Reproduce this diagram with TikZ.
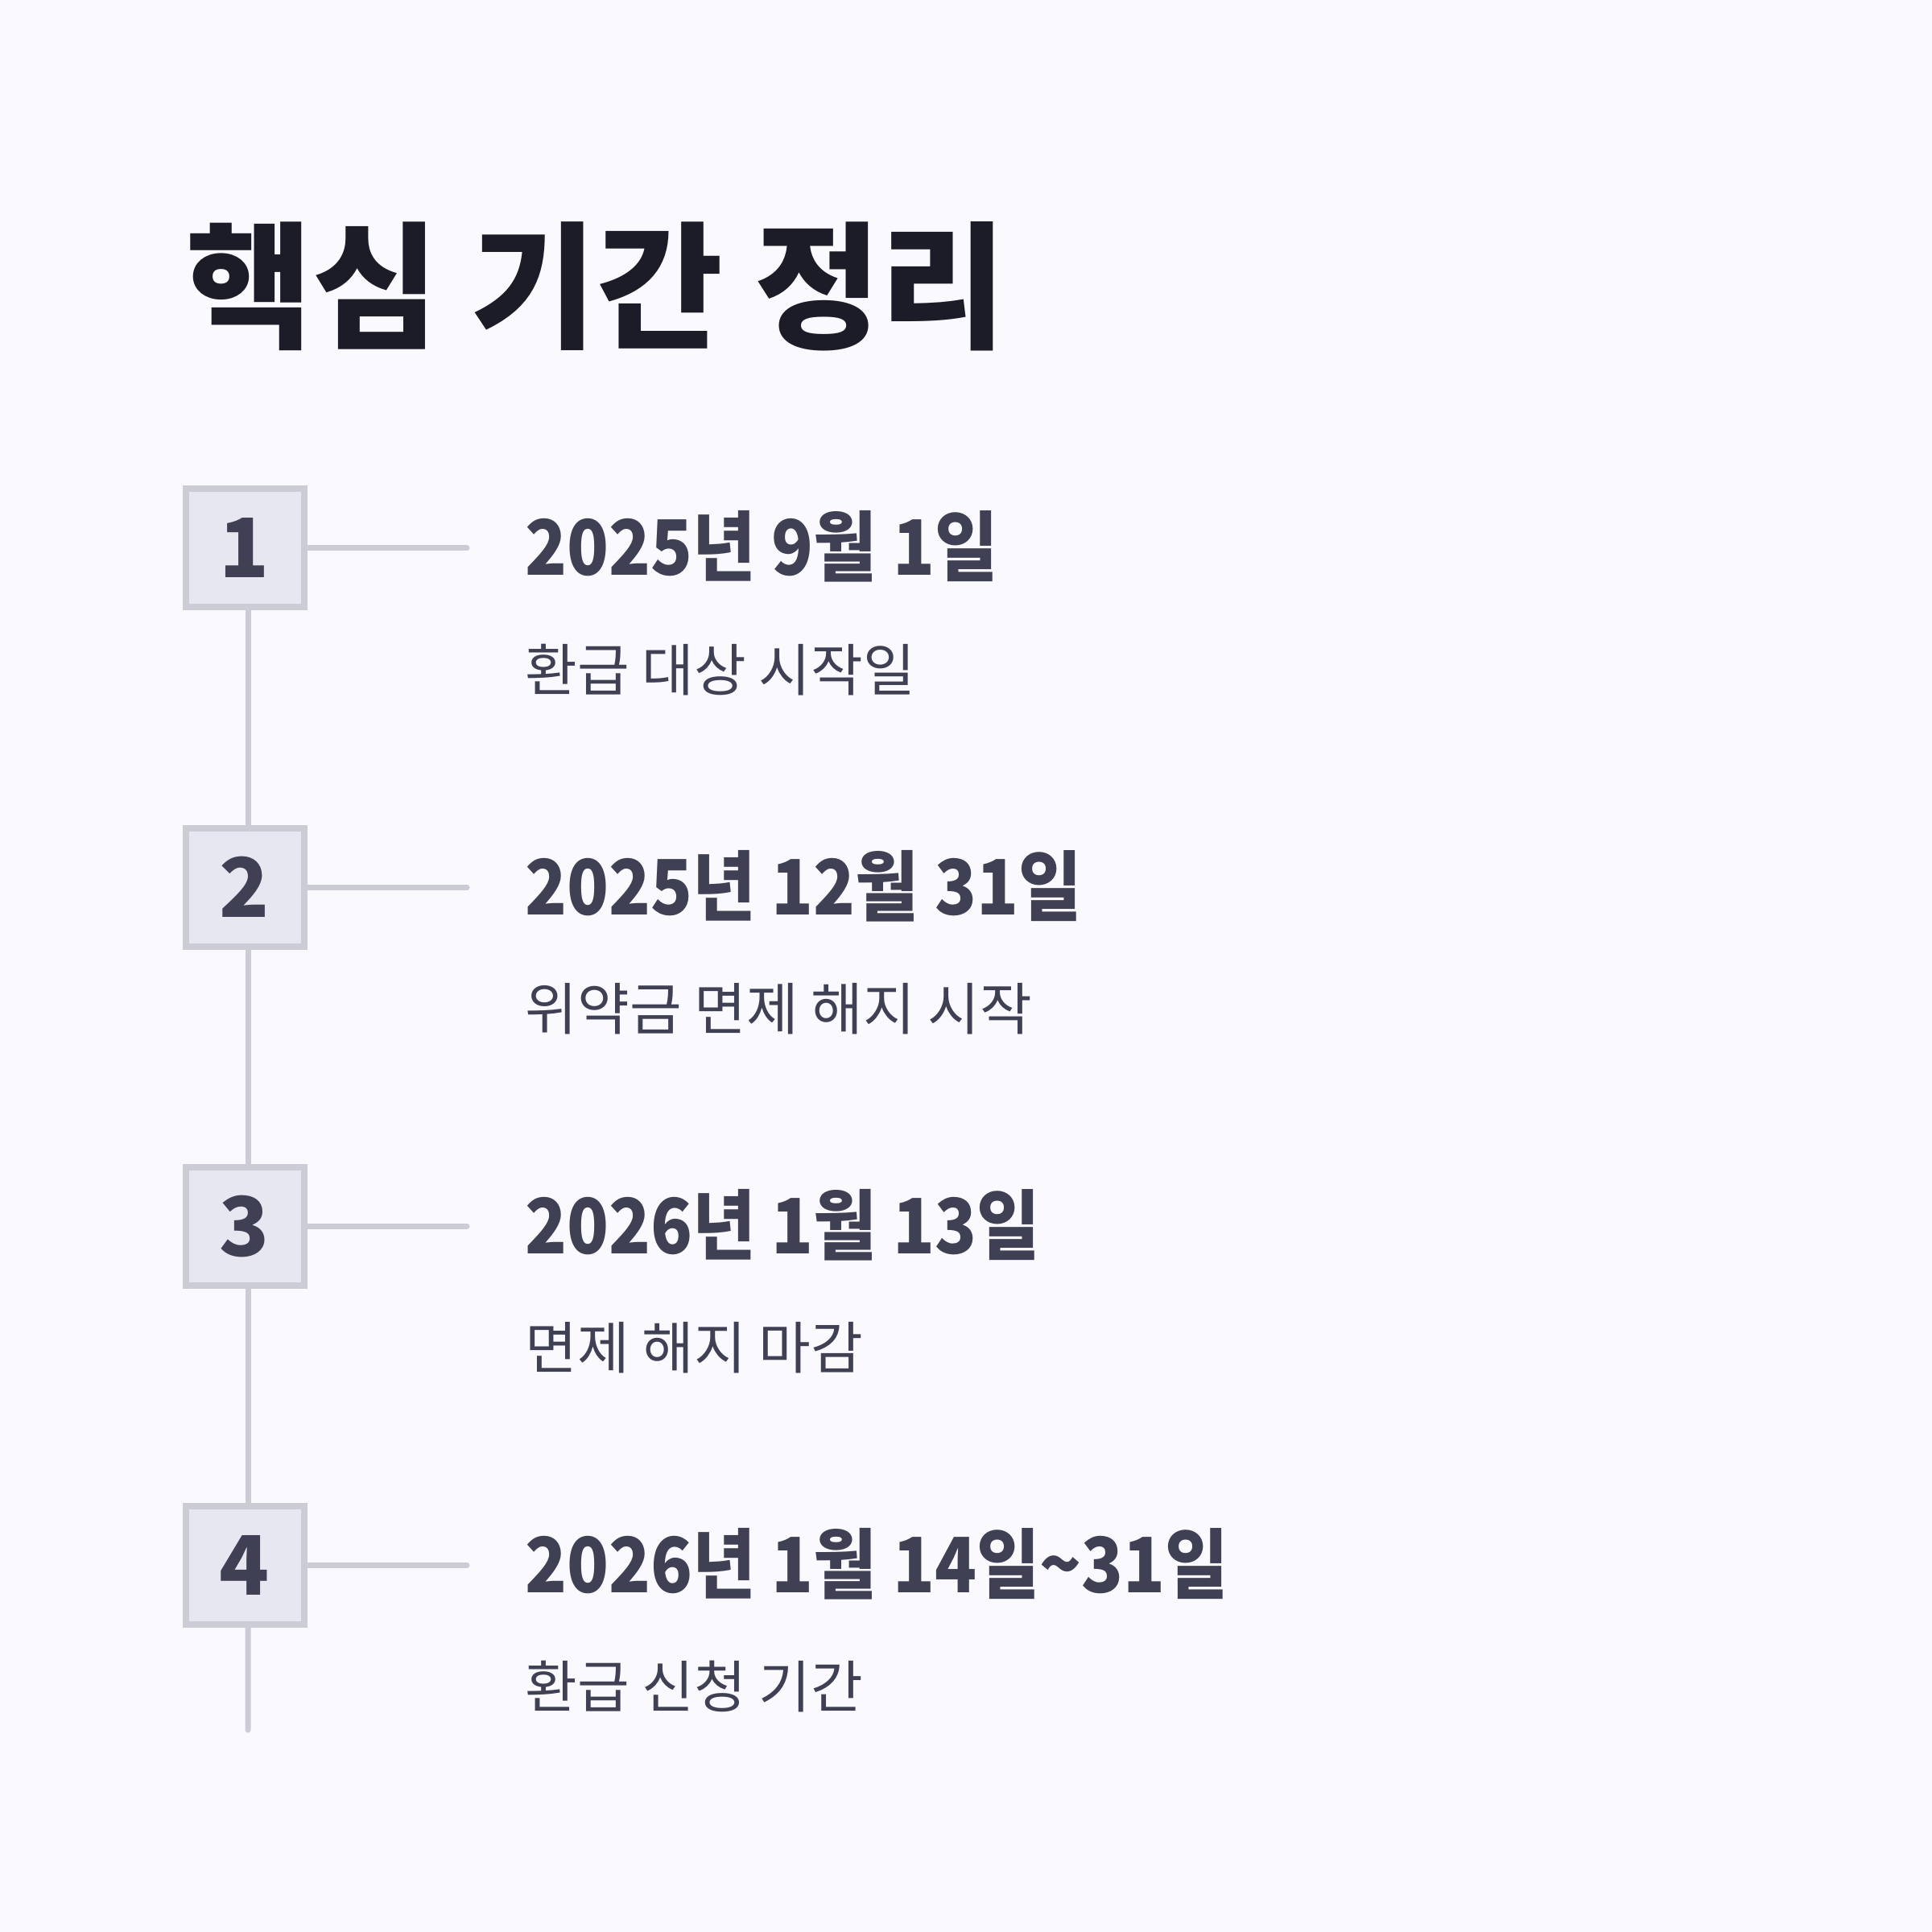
\documentclass[tikz,border=0pt]{standalone}
\usepackage{fontspec}
\setmainfont{Noto Sans CJK KR}
\usepackage{tikz}
\usetikzlibrary{positioning}
\definecolor{BG}{HTML}{F9F9FE}
\definecolor{BOX_FILL}{HTML}{E7E7F2}
\definecolor{BOX_LINE}{HTML}{CCCCD7}
\definecolor{TITLE_INK}{HTML}{1C1C28}
\definecolor{TEXT_INK}{HTML}{404055}

\begin{document}
\begin{tikzpicture}[
    stepbox/.style={draw=BOX_LINE, line width=0.08cm, fill=BOX_FILL, minimum size=1.47cm, inner sep=0pt, text=TEXT_INK, font=\fontsize{29}{29}\selectfont\bfseries},
    datetext/.style={anchor=base west, inner sep=0pt, text=TEXT_INK, font=\fontsize{27}{27}\selectfont\bfseries\addfontfeature{FakeStretch=0.9}},
    subtext/.style={anchor=base west, inner sep=0pt, text=TEXT_INK, font=\fontsize{20}{20}\selectfont},
    link/.style={BOX_LINE, line width=0.07cm, line cap=round}]
  % Page
  \fill[BG] (0,0) rectangle (24,-24);
  \useasboundingbox (0,0) rectangle (24,-24);

  % Title
  \node[anchor=base west, inner sep=0pt, text=TITLE_INK, font=\fontsize{48.5}{48.5}\selectfont\bfseries] (title) at (2.31,-4.20) {핵심 기간 정리};

  % Timeline end
  \coordinate (tailend) at (3.08,-21.49);

  % Steps
  \node[stepbox] (box1) at (3.04,-6.81) {1};
  \node[stepbox] (box2) at (3.04,-11.02) {2};
  \node[stepbox] (box3) at (3.04,-15.23) {3};
  \node[stepbox] (box4) at (3.04,-19.44) {4};

  \coordinate (tick1) at (5.80,-6.81);
  \coordinate (tick2) at (5.80,-11.02);
  \coordinate (tick3) at (5.80,-15.23);
  \coordinate (tick4) at (5.80,-19.44);

  % Vertical line
  \draw[link] ([xshift=0.04cm]box1.south) -- ([xshift=0.04cm]box2.north);
  \draw[link] ([xshift=0.04cm]box2.south) -- ([xshift=0.04cm]box3.north);
  \draw[link] ([xshift=0.04cm]box3.south) -- ([xshift=0.04cm]box4.north);
  \draw[link] ([xshift=0.04cm]box4.south) -- (tailend);

  % Ticks
  \draw[link] (box1.east) -- (tick1);
  \draw[link] (box2.east) -- (tick2);
  \draw[link] (box3.east) -- (tick3);
  \draw[link] (box4.east) -- (tick4);

  % Dates
  \node[datetext] (date1) at (6.52,-7.15) {2025년 9월 1일};
  \node[datetext] (date2) at (6.52,-11.36) {2025년 12월 31일};
  \node[datetext] (date3) at (6.52,-15.57) {2026년 1월 13일};
  \node[datetext] (date4) at (6.52,-19.78) {2026년 1월 14일\textasciitilde31일};

  % Descriptions
  \node[subtext] (sub1) at (6.52,-8.58) {환급 대상 시작일};
  \node[subtext] (sub2) at (6.52,-12.79) {위약금 면제 해지 시작};
  \node[subtext] (sub3) at (6.52,-17.00) {면제 해지 마감};
  \node[subtext] (sub4) at (6.52,-21.21) {환급 신청 기간};
\end{tikzpicture}
\end{document}
